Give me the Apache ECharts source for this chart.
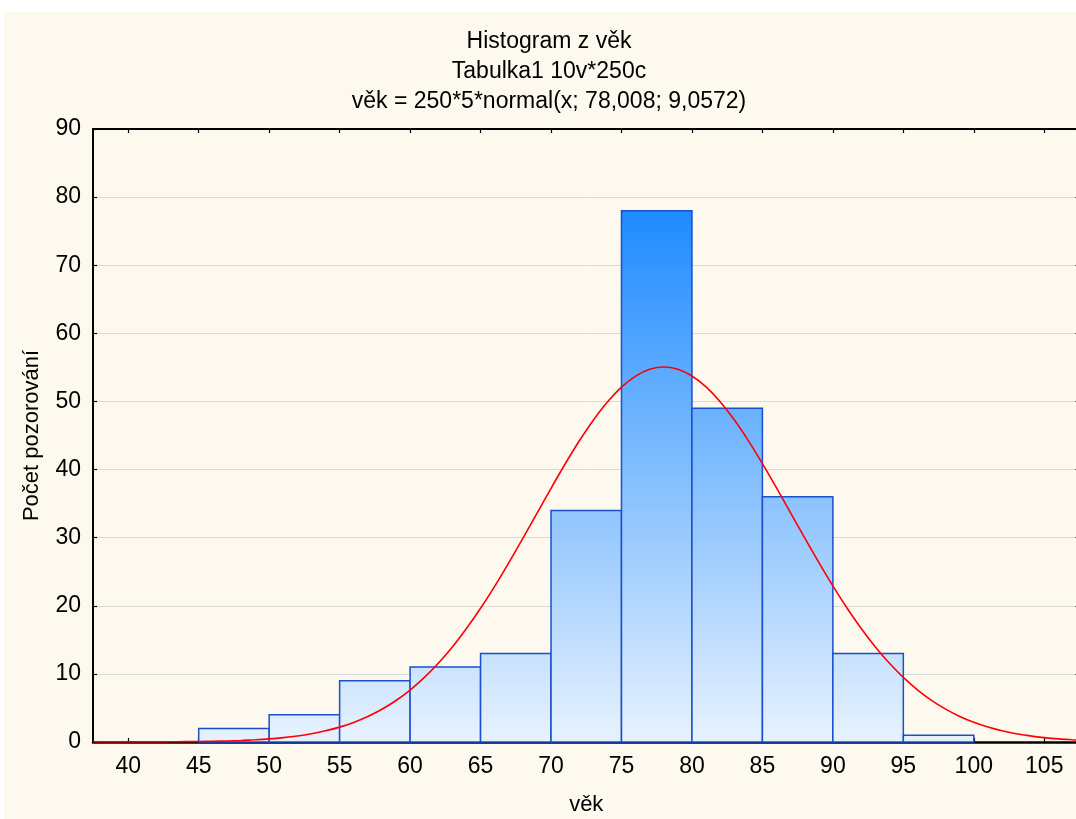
<!DOCTYPE html>
<html><head><meta charset="utf-8">
<script src="https://cdn.jsdelivr.net/npm/echarts@6/dist/echarts.min.js"></script>
<style>
html,body{margin:0;padding:0;background:#fff;overflow:hidden;width:1076px;height:819px}
#c{position:absolute;left:4px;top:12px;width:1080px;height:807px;background:#fdf9ee}
</style>
</head><body><div id="c"></div>
<script>
const titleLines = ['Histogram z věk', 'Tabulka1 10v*250c', 'věk = 250*5*normal(x; 78,008; 9,0572)'];
const xName = 'věk';
const yName = 'Počet pozorování';
const binStart = [45, 50, 55, 60, 65, 70, 75, 80, 85, 90, 95];
const binEnd   = [50, 55, 60, 65, 70, 75, 80, 85, 90, 95, 100];
const counts   = [2, 4, 9, 11, 13, 34, 78, 49, 36, 13, 1];
const curveX = [37.5, 38, 39, 40, 41, 42, 43, 44, 45, 46, 47, 48, 49, 50, 51, 52, 53, 54, 55, 56, 57, 58, 59,
                60, 61, 62, 63, 64, 65, 66, 67, 68, 69, 70, 71, 72, 73, 74, 75, 76, 77, 78, 79, 80, 81, 82,
                83, 84, 85, 86, 87, 88, 89, 90, 91, 92, 93, 94, 95, 96, 97, 98, 99, 100, 101, 102, 103, 104,
                105, 106, 107, 107.5];
const curveY = [0.003, 0.003, 0.005, 0.008, 0.013, 0.02, 0.031, 0.048, 0.072, 0.107, 0.157, 0.227, 0.326,
                0.46, 0.646, 0.89, 1.217, 1.64, 2.185, 2.88, 3.74, 4.80, 6.09, 7.63, 9.44, 11.55, 13.95,
                16.65, 19.63, 22.86, 26.31, 29.90, 33.58, 37.25, 40.82, 44.19, 47.25, 49.92, 52.10, 53.72,
                54.72, 55.06, 54.73, 53.74, 52.13, 49.96, 47.30, 44.24, 40.87, 37.31, 33.64, 29.96, 26.37,
                22.92, 19.68, 16.70, 13.99, 11.59, 9.48, 7.66, 6.11, 4.82, 3.75, 2.89, 2.196, 1.65, 1.223,
                0.90, 0.649, 0.46, 0.328, 0.27];
const xTicks = [40, 45, 50, 55, 60, 65, 70, 75, 80, 85, 90, 95, 100, 105];
const xMin = 37.5, xMax = 107.5;
const yMin = 0, yMax = 90, yStep = 10;

const FONT = 'Liberation Sans, Arial, sans-serif';
const chart = echarts.init(document.getElementById('c'), null, {renderer: 'canvas'});

const barData = binStart.map((s, i) => [s, binEnd[i], counts[i]]);
const curveData = curveX.map((x, i) => [x, curveY[i]]);
const maxCount = Math.max.apply(null, counts);

const baseX = {
  type: 'value', min: xMin, max: xMax,
  splitLine: {show: false},
  axisTick: {show: true, inside: true, length: 4, lineStyle: {color: '#000', width: 1.2}, customValues: xTicks},
};
const baseY = {
  type: 'value', min: yMin, max: yMax, interval: yStep,
  axisTick: {show: true, inside: true, length: 4, lineStyle: {color: '#000', width: 1.2}},
};

chart.setOption({
  animation: false,
  textStyle: {fontFamily: FONT},
  grid: {left: 89, top: 117, right: 4.5, bottom: 77, containLabel: false, outerBoundsMode: 'none'},
  graphic: titleLines.map((t, i) => ({
    type: 'text', x: 545, y: [29.5, 59.5, 90][i],
    style: {text: t, font: '23px ' + FONT, fill: '#000', textAlign: 'center', textVerticalAlign: 'middle'}
  })),
  xAxis: [
    Object.assign({}, baseX, {
      position: 'bottom',
      axisLine: {show: true, onZero: false, lineStyle: {color: '#000', width: 2.5}},
      axisLabel: {show: true, customValues: xTicks, fontSize: 23, color: '#000', margin: 13, fontFamily: FONT},
      name: xName, nameLocation: 'middle', nameGap: 52,
      nameTextStyle: {fontSize: 22, color: '#000', fontFamily: FONT}
    }),
    Object.assign({}, baseX, {
      position: 'top',
      axisLine: {show: true, onZero: false, lineStyle: {color: '#000', width: 2}},
      axisLabel: {show: false}
    })
  ],
  yAxis: [
    Object.assign({}, baseY, {
      position: 'left',
      axisLine: {show: true, onZero: false, lineStyle: {color: '#000', width: 2}},
      axisLabel: {show: true, fontSize: 23, color: '#000', margin: 12, fontFamily: FONT},
      splitLine: {show: true, lineStyle: {color: '#dadada', width: 1}},
      name: yName, nameLocation: 'middle', nameGap: 50, nameRotate: 90,
      nameTextStyle: {fontSize: 22, color: '#000', fontFamily: FONT}
    }),
    Object.assign({}, baseY, {
      position: 'right',
      axisLine: {show: true, onZero: false, lineStyle: {color: '#000', width: 2}},
      axisLabel: {show: false},
      splitLine: {show: false}
    })
  ],
  series: [
    {
      type: 'custom', xAxisIndex: 0, yAxisIndex: 0, z: 2,
      data: barData,
      encode: {x: [0, 1], y: 2},
      renderItem: function (params, api) {
        const p0 = api.coord([api.value(0), api.value(2)]);
        const p1 = api.coord([api.value(1), 0]);
        const gTop = api.coord([xMin, maxCount])[1];
        const gBot = api.coord([xMin, 0])[1];
        const grad = new echarts.graphic.LinearGradient(0, gTop, 0, gBot, [
          {offset: 0, color: '#1e8bff'},
          {offset: 1, color: '#e8f2fd'}
        ], true);
        return {
          type: 'rect',
          shape: {x: p0[0], y: p0[1], width: p1[0] - p0[0], height: p1[1] - p0[1]},
          style: {fill: grad, stroke: '#1a4fcf', lineWidth: 1.5}
        };
      }
    },
    {
      type: 'line', xAxisIndex: 0, yAxisIndex: 0, z: 3,
      data: curveData, smooth: 0.3, symbol: 'none', clip: true,
      lineStyle: {color: '#ff0000', width: 1.6}
    }
  ]
});
</script>
</body></html>
